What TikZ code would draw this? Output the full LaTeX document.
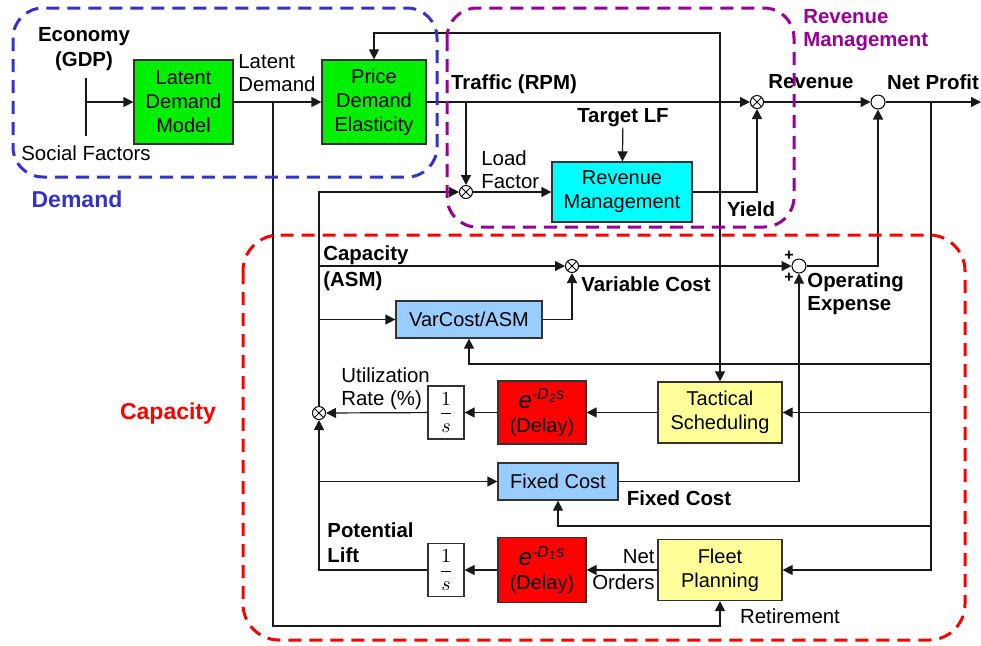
\documentclass[tikz,border=0pt]{standalone}
\usepackage{fontspec}
\setmainfont{Liberation Sans}
\usetikzlibrary{arrows.meta}
\definecolor{demandblue}{HTML}{3333CC}
\definecolor{revpurple}{HTML}{990099}
\definecolor{capred}{HTML}{FF0000}
\definecolor{boxgreen}{HTML}{00F000}
\definecolor{boxcyan}{HTML}{00FFFF}
\definecolor{boxblue}{HTML}{99CCFF}
\definecolor{boxyellow}{HTML}{FFFF99}
\definecolor{boxred}{HTML}{FF0000}
\newcommand{\boxfont}{\fontsize{10}{12}\selectfont}
\newcommand{\lblfont}{\fontsize{10.2}{11.5}\selectfont}
\newcommand{\delayexp}[1]{{\fontsize{12}{13}\selectfont\itshape e\textsuperscript{-D\textsubscript{#1}s}}}

\begin{document}
\begin{tikzpicture}[x=0.5pt,y=-0.5pt,>={Triangle[length=5pt,width=5pt]},
  blk/.style={draw=black!80,line width=0.6pt,align=center,inner sep=0pt,font=\boxfont},
  lbl/.style={font=\lblfont,align=left,inner sep=0pt},
  blbl/.style={font=\lblfont\bfseries,align=left,inner sep=0pt},
  sig/.style={draw=black!90,line width=0.6pt,->},
  wire/.style={draw=black!90,line width=0.6pt},
  mult/.style={circle,draw,fill=white,line width=0.5pt,minimum size=6.5pt,inner sep=0pt,
    path picture={
      \draw[line width=0.4pt] ([shift={(-2.3pt,-2.3pt)}]path picture bounding box.center) -- ([shift={(2.3pt,2.3pt)}]path picture bounding box.center);
      \draw[line width=0.4pt] ([shift={(-2.3pt,2.3pt)}]path picture bounding box.center) -- ([shift={(2.3pt,-2.3pt)}]path picture bounding box.center);}},
  summ/.style={circle,draw,fill=white,line width=0.5pt,minimum size=7pt,inner sep=0pt},
  region/.style={line width=1.5pt,dash pattern=on 6.5pt off 4pt,rounded corners=15pt},
  reglbl/.style={font=\fontsize{11.5}{11.5}\selectfont\bfseries,align=left,inner sep=0pt}]
\useasboundingbox (0,0) rectangle (981,645);

% blocks
\node[blk,fill=boxgreen,minimum width=49.5pt,minimum height=42pt] (ldm) at (183.5,102) {Latent\\Demand\\Model};
\node[blk,fill=boxgreen,minimum width=52pt,minimum height=42pt] (pde) at (374,102) {Price\\Demand\\Elasticity};
\node[blk,fill=boxcyan,minimum width=70pt,minimum height=30pt] (rm) at (622,192) {Revenue\\Management};
\node[blk,fill=boxblue,minimum width=73pt,minimum height=18.5pt] (vcasm) at (469,319.5) {VarCost/ASM};
\node[blk,fill=boxyellow,minimum width=62pt,minimum height=30.5pt] (tact) at (720,412.5) {Tactical\\Scheduling};
\node[blk,fill=boxred,minimum width=44pt,minimum height=31.5pt] (dly2) at (542,412.5) {\delayexp{2}\\(Delay)};
\node[blk,fill=white,minimum width=18pt,minimum height=26.5pt] (int2) at (446,412.5) {$\displaystyle\frac{1}{s}$};
\node[blk,fill=boxblue,minimum width=60pt,minimum height=18.5pt] (fixc) at (558,481.5) {Fixed Cost};
\node[blk,fill=boxyellow,minimum width=62pt,minimum height=30.5pt] (fleet) at (720,570) {Fleet\\Planning};
\node[blk,fill=boxred,minimum width=44pt,minimum height=32.5pt] (dly1) at (542,570) {\delayexp{1}\\(Delay)};
\node[blk,fill=white,minimum width=18pt,minimum height=26.5pt] (int1) at (446,570) {$\displaystyle\frac{1}{s}$};

% junctions
\node[mult] (lfx) at (466,192) {};
\node[mult] (revx) at (757,102) {};
\node[mult] (vcx) at (572,266) {};
\node[mult] (utilx) at (319,413) {};
\node[summ] (npx) at (878,102) {};
\node[summ] (opx) at (799,266) {};

\coordinate (ecotop) at (86,78);
\coordinate (ecobot) at (86,136);
\coordinate (jLat) at (273,102);
\coordinate (retire) at (273,626);
\coordinate (topR) at (720,33);
\coordinate (jTraf) at (466,102);
\coordinate (jCapTop) at (319,192);
\coordinate (jASM) at (319,266);
\coordinate (jVA) at (319,319.5);
\coordinate (jFix) at (319,481.5);
\coordinate (jNP) at (931,102);
\coordinate (jVC) at (931,364);
\coordinate (jFC) at (931,526);
\coordinate (out) at (981,102);

% labels
\node[blbl,align=center,font=\fontsize{10.2}{12.5}\selectfont\bfseries] (econ) at (84,49) {Economy\\(GDP)};
\node[lbl] (social) at (86,153) {Social Factors};
\node[lbl,anchor=west] (latlbl) at (238,73) {Latent\\Demand};
\node[blbl] (traflbl) at (514,84) {Traffic (RPM)};
\node[lbl,anchor=west] (lflbl) at (481,169.5) {Load\\Factor};
\node[blbl] (tlf) at (623,118) {Target LF};
\node[blbl] (yldlbl) at (751,209) {Yield};
\node[blbl] (revlbl) at (811,82) {Revenue};
\node[blbl] (nplbl) at (933,82) {Net Profit};
\node[blbl,anchor=west,font=\fontsize{10.2}{13}\selectfont\bfseries] (asmlbl) at (323,268) {Capacity\\(ASM)};
\node[blbl] (vclbl) at (646,284) {Variable Cost};
\node[blbl,anchor=west] (oplbl) at (807,294) {Operating\\Expense};
\node[lbl,anchor=west] (utillbl) at (341,389) {Utilization\\Rate (\%)};
\node[blbl] (fclbl) at (679,498) {Fixed Cost};
\node[blbl,anchor=west,font=\fontsize{10.2}{12.5}\selectfont\bfseries] (potlbl) at (327,542.5) {Potential\\Lift};
\node[lbl,anchor=east,align=right,font=\fontsize{10.2}{13}\selectfont] (ordlbl) at (655,570) {Net\\Orders};
\node[lbl] (retlbl) at (790,616) {Retirement};
\node[blbl,font=\fontsize{8}{8}\selectfont\bfseries] (plusA) at (789,256) {+};
\node[blbl,font=\fontsize{8}{8}\selectfont\bfseries] (plusB) at (789,278) {+};

% demand
\draw[wire] (ecotop) -- (ecobot);
\draw[sig] (ecotop |- ldm) -- (ldm);
\draw[sig] (ldm) -- (pde);
\draw[sig] (jLat) -- (retire) -| (fleet.south);
\draw[sig,<->] (tact.north) -- (topR) -| (pde.north);

% revenue management
\draw[sig] (pde) -- (revx);
\draw[sig] (jTraf) -- (lfx);
\draw[sig] (utilx) -- (jCapTop) -- (lfx);
\draw[sig] (lfx) -- (rm);
\draw[sig] (tlf) -- (rm);
\draw[sig] (rm) -| (revx);
\draw[sig] (revx) -- (npx);
\draw[sig] (npx) -- (out);

% feedback of net profit
\draw[sig] (jNP) |- (fleet);
\draw[sig] (jNP |- tact) -- (tact);
\draw[sig] (jVC) -| (vcasm);
\draw[sig] (jFC) -| (fixc);

% capacity and cost
\draw[sig] (jASM) -- (vcx);
\draw[sig] (jVA) -- (vcasm);
\draw[sig] (vcasm) -| (vcx);
\draw[sig] (vcx) -- (opx);
\draw[sig] (fixc) -| (opx);
\draw[sig] (opx) -| (npx);
\draw[sig] (tact) -- (dly2);
\draw[sig] (dly2) -- (int2);
\draw[sig] (int2) -- (utilx);
\draw[sig] (fleet) -- (dly1);
\draw[sig] (dly1) -- (int1);
\draw[sig] (int1) -| (utilx);
\draw[sig] (jFix) -- (fixc);

% regions
\draw[region,demandblue] (13,8) rectangle (437,177);
\draw[region,revpurple] (447,8) rectangle (794,227);
\draw[region,capred,rounded corners=18pt] (243,235) rectangle (965,640);
\node[reglbl,text=demandblue] (demlbl) at (77,199) {Demand};
\node[reglbl,text=revpurple,anchor=west,font=\fontsize{10.2}{11.5}\selectfont\bfseries] (revmlbl) at (803,30.5) {Revenue\\Management};
\node[reglbl,text=capred] (caplbl) at (168,414) {Capacity};
\end{tikzpicture}
\end{document}
